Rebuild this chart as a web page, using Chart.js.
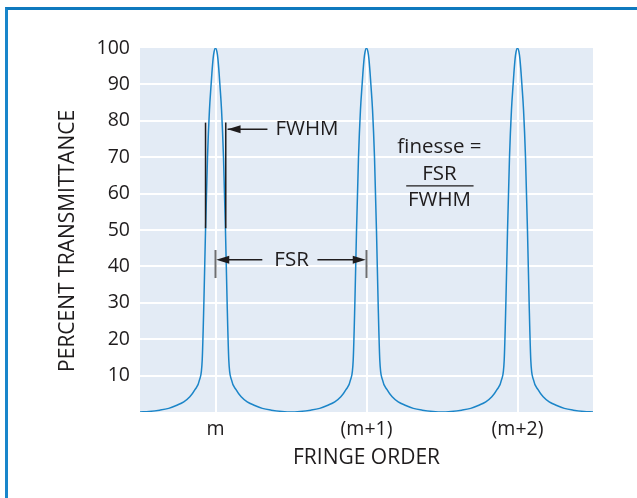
<!DOCTYPE html>
<html>
<head>
<meta charset="utf-8">
<script src="https://cdn.jsdelivr.net/npm/chart.js@4.4.1/dist/chart.umd.min.js"></script>
<style>
  html, body { margin: 0; padding: 0; background: #fff; }
  #wrap { position: relative; width: 637px; height: 498px; overflow: hidden; }
  #frame { position: absolute; left: 5px; top: 7px; right: -10px; bottom: -10px;
           border-top: 3px solid #0f79be; border-left: 3px solid #1886cb; }
  canvas { position: absolute; left: 0; top: 0; }
</style>
</head>
<body>
<div id="wrap">
  <div id="frame"></div>
  <canvas id="chart" width="637" height="498"></canvas>
</div>
<script>
// fringe orders and their labels
const ORDERS = [0, 1, 2];
const ORDER_LABELS = ["m", "(m+1)", "(m+2)"];
// one transmission peak, left half (offset from the order, percent transmittance)
const PEAK_OFFSETS = [-0.5, -0.44, -0.37, -0.31, -0.26, -0.21, -0.17, -0.135, -0.106, -0.088, -0.077, -0.066, -0.053, -0.04, -0.029, -0.024, -0.016, -0.0093, 0];
const PEAK_VALUES  = [0, 0.15, 0.5, 1.0, 1.8, 2.8, 4.2, 6.2, 8.8, 14.3, 30, 50, 70, 83, 90, 93, 97, 99, 100];
const Y_TICKS = [10, 20, 30, 40, 50, 60, 70, 80, 90, 100];

const FONT = "'Open Sans', sans-serif";
const TEXT = "#1f1c1d";

// build the curve: the same measured peak at every order
const points = [];
ORDERS.forEach(k => {
    PEAK_OFFSETS.forEach((o, i) => points.push({ x: k + o, y: PEAK_VALUES[i] }));
    for (let i = PEAK_OFFSETS.length - 2; i >= 0; i--) {
        points.push({ x: k - PEAK_OFFSETS[i], y: PEAK_VALUES[i] });
    }
});
const curve = points.filter((p, i) => i === 0 || Math.abs(p.x - points[i - 1].x) > 1e-9);

function arrowHead(ctx, x, y, dir) {
    ctx.beginPath();
    ctx.moveTo(x, y);
    ctx.lineTo(x - dir * 13, y - 4);
    ctx.lineTo(x - dir * 13, y + 4);
    ctx.closePath();
    ctx.fill();
}

const fringePlugin = {
    id: "fringe",
    beforeDraw(chart) {
        const { ctx, chartArea: a } = chart;
        ctx.save();
        ctx.fillStyle = "#e3ebf5";
        ctx.fillRect(a.left, a.top, a.right - a.left, a.bottom - a.top);
        ctx.restore();
    },
    afterDatasetsDraw(chart) {
        const { ctx } = chart;
        const X = v => chart.scales.x.getPixelForValue(v);
        const Y = v => chart.scales.y.getPixelForValue(v);
        ctx.save();
        ctx.fillStyle = TEXT;
        ctx.strokeStyle = TEXT;

        // FWHM markers
        ctx.lineWidth = 1.5;
        [-0.066, 0.068].forEach(o => {
            ctx.beginPath();
            ctx.moveTo(X(o), Y(79.5));
            ctx.lineTo(X(o), Y(50.5));
            ctx.stroke();
        });
        ctx.beginPath();
        ctx.moveTo(X(0.344), Y(77.7));
        ctx.lineTo(X(0.08), Y(77.7));
        ctx.stroke();
        arrowHead(ctx, X(0.08), Y(77.7), -1);
        ctx.font = "20.5px " + FONT;
        ctx.textBaseline = "middle";
        ctx.textAlign = "left";
        ctx.fillText("FWHM", X(0.397), Y(77.7));

        // FSR markers
        ctx.strokeStyle = "#6d6e71";
        ctx.lineWidth = 2;
        [0, 1].forEach(o => {
            ctx.beginPath();
            ctx.moveTo(X(o), Y(44.5));
            ctx.lineTo(X(o), Y(36.8));
            ctx.stroke();
        });
        ctx.strokeStyle = TEXT;
        ctx.lineWidth = 1.5;
        ctx.beginPath();
        ctx.moveTo(X(0.05), Y(41.8));
        ctx.lineTo(X(0.31), Y(41.8));
        ctx.moveTo(X(0.675), Y(41.8));
        ctx.lineTo(X(0.95), Y(41.8));
        ctx.stroke();
        arrowHead(ctx, X(0.005), Y(41.8), -1);
        arrowHead(ctx, X(0.995), Y(41.8), 1);
        ctx.textAlign = "center";
        ctx.fillText("FSR", X(0.504), Y(41.8));

        // finesse formula
        ctx.fillText("finesse =", X(1.483), Y(72.8));
        ctx.fillText("FSR", X(1.483), Y(65.4));
        ctx.fillText("FWHM", X(1.483), Y(58.2));
        ctx.lineWidth = 1.2;
        ctx.beginPath();
        ctx.moveTo(X(1.263), Y(62.1));
        ctx.lineTo(X(1.709), Y(62.1));
        ctx.stroke();
        ctx.restore();
    }
};

new Chart(document.getElementById("chart"), {
    type: "line",
    data: {
        datasets: [{
            data: curve,
            borderColor: "#1b85c8",
            borderWidth: 1.5,
            pointRadius: 0,
            cubicInterpolationMode: "monotone",
            fill: false
        }]
    },
    options: {
        responsive: false,
        animation: false,
        events: [],
        layout: { padding: { top: 48, right: 44, left: 0, bottom: 0 } },
        plugins: { legend: { display: false }, tooltip: { enabled: false } },
        scales: {
            x: {
                type: "linear",
                min: -0.5,
                max: 2.5,
                afterBuildTicks: s => { s.ticks = ORDERS.map(v => ({ value: v })); },
                afterFit: s => { s.height = 86; },
                ticks: {
                    padding: 6,
                    color: TEXT,
                    font: { family: FONT, size: 19.5 },
                    callback: v => ORDER_LABELS[ORDERS.indexOf(v)]
                },
                grid: { color: "#ffffff", lineWidth: 2, drawTicks: false },
                border: { display: false },
                title: {
                    display: true,
                    text: "FRINGE ORDER",
                    color: TEXT,
                    font: { family: FONT, size: 21 },
                    padding: { top: 0, bottom: 27 }
                }
            },
            y: {
                min: 0,
                max: 100,
                afterBuildTicks: s => { s.ticks = [0].concat(Y_TICKS).map(v => ({ value: v })); },
                afterFit: s => { s.width = 140; },
                ticks: {
                    padding: 10,
                    color: TEXT,
                    font: { family: FONT, size: 19.5 },
                    callback: v => (Y_TICKS.includes(v) ? String(v) : "")
                },
                grid: {
                    color: c => (c.tick && (c.tick.value === 0 || c.tick.value === 100) ? "rgba(0,0,0,0)" : "#ffffff"),
                    lineWidth: 2,
                    drawTicks: false
                },
                border: { display: false },
                title: {
                    display: true,
                    // trailing spaces nudge the rotated title down a little
                    text: "PERCENT TRANSMITTANCE    ",
                    color: TEXT,
                    font: { family: FONT, size: 21 },
                    padding: { top: 55, bottom: 0 }
                }
            }
        }
    },
    plugins: [fringePlugin]
});
</script>
</body>
</html>
